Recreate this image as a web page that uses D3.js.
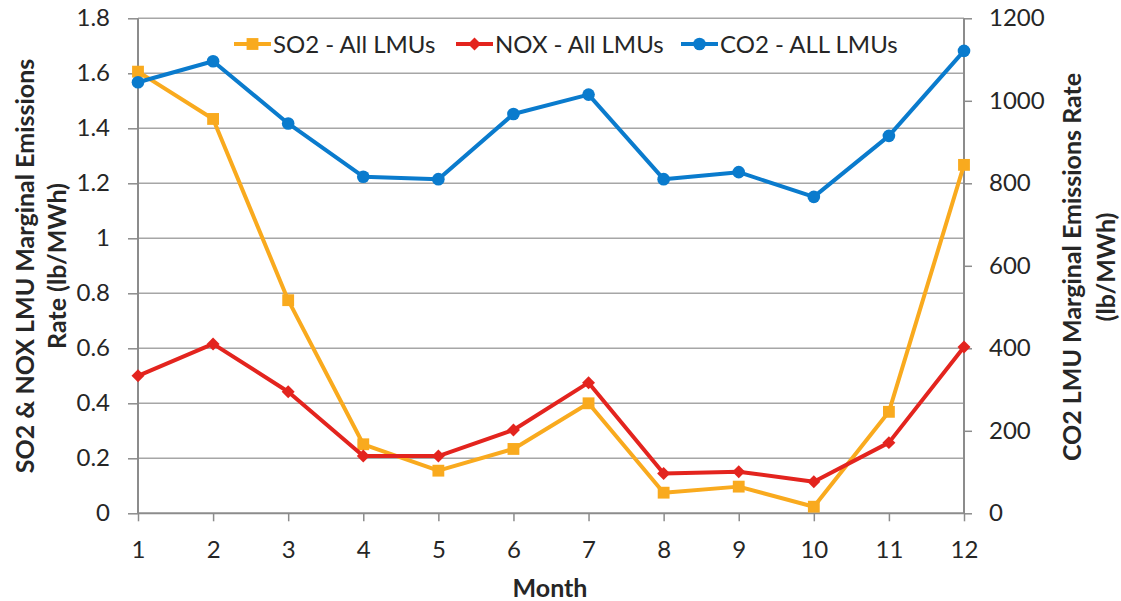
<!DOCTYPE html>
<html>
<head>
<meta charset="utf-8">
<script src="https://cdn.jsdelivr.net/npm/d3@7"></script>
<style>
  html, body { margin: 0; padding: 0; background: #fff; }
  svg { display: block; font-family: Lato, "Open Sans", sans-serif; }
</style>
</head>
<body>
<svg id="chart" width="1121" height="601"></svg>
<script>
// Monthly marginal emissions rates (lb/MWh)
const months = [1, 2, 3, 4, 5, 6, 7, 8, 9, 10, 11, 12];
const so2 = [1.606, 1.434, 0.775, 0.251, 0.155, 0.234, 0.400, 0.075, 0.097, 0.024, 0.369, 1.267];
const nox = [0.500, 0.616, 0.442, 0.208, 0.208, 0.303, 0.475, 0.145, 0.151, 0.115, 0.257, 0.605];
const co2 = [1045, 1096, 945, 816, 810, 968, 1015, 810, 827, 767, 915, 1121];

const leftTicks = [0, 0.2, 0.4, 0.6, 0.8, 1, 1.2, 1.4, 1.6, 1.8];
const rightTicks = [0, 200, 400, 600, 800, 1000, 1200];

const seriesNames = ["SO2 - All LMUs", "NOX - All LMUs", "CO2 - ALL LMUs"];
const colors = { so2: "#F9AA1E", nox: "#E3241E", co2: "#0A7BCD" };

const svg = d3.select("#chart");
const m = { left: 138, right: 964, top: 18.3, bottom: 513.3 };

const x = d3.scaleLinear().domain([1, 12]).range([m.left, m.right]);
const yL = d3.scaleLinear().domain([0, 1.8]).range([m.bottom, m.top]);
const yR = d3.scaleLinear().domain([0, 1200]).range([m.bottom, m.top]);

const textColor = "#262626";
const axisColor = "#8C8C8C";
const gridColor = "#A6A6A6";

// Excel-style diamond: a square turned 45 degrees
const symbolDiamond45 = {
  draw(context, size) {
    const r = Math.sqrt(size / 2);
    context.moveTo(0, -r);
    context.lineTo(r, 0);
    context.lineTo(0, r);
    context.lineTo(-r, 0);
    context.closePath();
  }
};

// horizontal gridlines (left scale)
svg.append("g")
  .selectAll("line")
  .data(leftTicks.filter(d => d > 0))
  .join("line")
  .attr("x1", m.left).attr("x2", m.right)
  .attr("y1", d => yL(d)).attr("y2", d => yL(d))
  .attr("stroke", gridColor).attr("stroke-width", 1.5);

// left axis
const gL = svg.append("g")
  .attr("transform", `translate(${m.left},0)`)
  .call(d3.axisLeft(yL).tickValues(leftTicks).tickSize(10).tickPadding(18)
    .tickFormat(d => String(+d.toFixed(1))));
// right axis
const gR = svg.append("g")
  .attr("transform", `translate(${m.right},0)`)
  .call(d3.axisRight(yR).tickValues(rightTicks).tickSize(8).tickPadding(17)
    .tickFormat(d => String(d)));
// bottom axis
const gB = svg.append("g")
  .attr("transform", `translate(0,${m.bottom})`)
  .call(d3.axisBottom(x).tickValues(months).tickSize(8).tickPadding(20));

[gL, gR, gB].forEach(g => {
  g.select(".domain").attr("stroke", axisColor).attr("stroke-width", 2);
  g.selectAll(".tick line").attr("stroke", axisColor).attr("stroke-width", 1.5);
  g.selectAll(".tick text")
    .attr("fill", textColor)
    .style("font-family", "Lato, 'Open Sans', sans-serif")
    .style("font-size", "24px");
});
gL.select(".domain").attr("d", `M0,${m.top}V${m.bottom}`);
gR.select(".domain").attr("d", `M0,${m.top}V${m.bottom}`);
gB.select(".domain").attr("d", `M${m.left},0H${m.right}`);

// series lines and markers
const series = [
  { key: "so2", values: so2, scale: yL, shape: d3.symbolSquare, size: 140 },
  { key: "nox", values: nox, scale: yL, shape: symbolDiamond45, size: 84 },
  { key: "co2", values: co2, scale: yR, shape: d3.symbolCircle, size: 125 }
];

series.forEach(s => {
  const line = d3.line().x((d, i) => x(months[i])).y(d => s.scale(d));
  svg.append("path")
    .datum(s.values)
    .attr("d", line)
    .attr("fill", "none")
    .attr("stroke", colors[s.key])
    .attr("stroke-width", 4)
    .attr("stroke-linejoin", "round");
  svg.append("g")
    .selectAll("path")
    .data(s.values)
    .join("path")
    .attr("transform", (d, i) => `translate(${x(months[i])},${s.scale(d)})`)
    .attr("d", d3.symbol().type(s.shape).size(s.size))
    .attr("fill", colors[s.key]);
});

// legend
const legendItems = [
  { key: "so2", x: 234, shape: d3.symbolSquare, size: 140 },
  { key: "nox", x: 456, shape: symbolDiamond45, size: 84 },
  { key: "co2", x: 681, shape: d3.symbolCircle, size: 125 }
];
const legend = svg.append("g");
legendItems.forEach((it, i) => {
  const g = legend.append("g").attr("transform", `translate(${it.x},44)`);
  g.append("line").attr("x1", 0).attr("x2", 37).attr("y1", 0).attr("y2", 0)
    .attr("stroke", colors[it.key]).attr("stroke-width", 4);
  g.append("path").attr("transform", "translate(18.5,0)")
    .attr("d", d3.symbol().type(it.shape).size(it.size))
    .attr("fill", colors[it.key]);
  g.append("text").attr("x", 39).attr("y", 9)
    .attr("fill", textColor).style("font-size", "24px")
    .text(seriesNames[i]);
});

// axis titles
const titleStyle = sel => sel.attr("fill", textColor)
  .style("font-size", "25px").style("font-weight", "bold")
  .attr("text-anchor", "middle");

svg.append("text").call(titleStyle)
  .attr("x", 550).attr("y", 597).text("Month");

svg.append("text").call(titleStyle)
  .attr("transform", "translate(34,266) rotate(-90)")
  .text("SO2 & NOX LMU Marginal Emissions");
svg.append("text").call(titleStyle)
  .attr("transform", "translate(66,266) rotate(-90)")
  .text("Rate (lb/MWh)");

svg.append("text").call(titleStyle)
  .attr("transform", "translate(1081,267) rotate(-90)")
  .text("CO2 LMU Marginal Emissions Rate");
svg.append("text").call(titleStyle)
  .attr("transform", "translate(1115,267) rotate(-90)")
  .text("(lb/MWh)");
</script>
</body>
</html>
